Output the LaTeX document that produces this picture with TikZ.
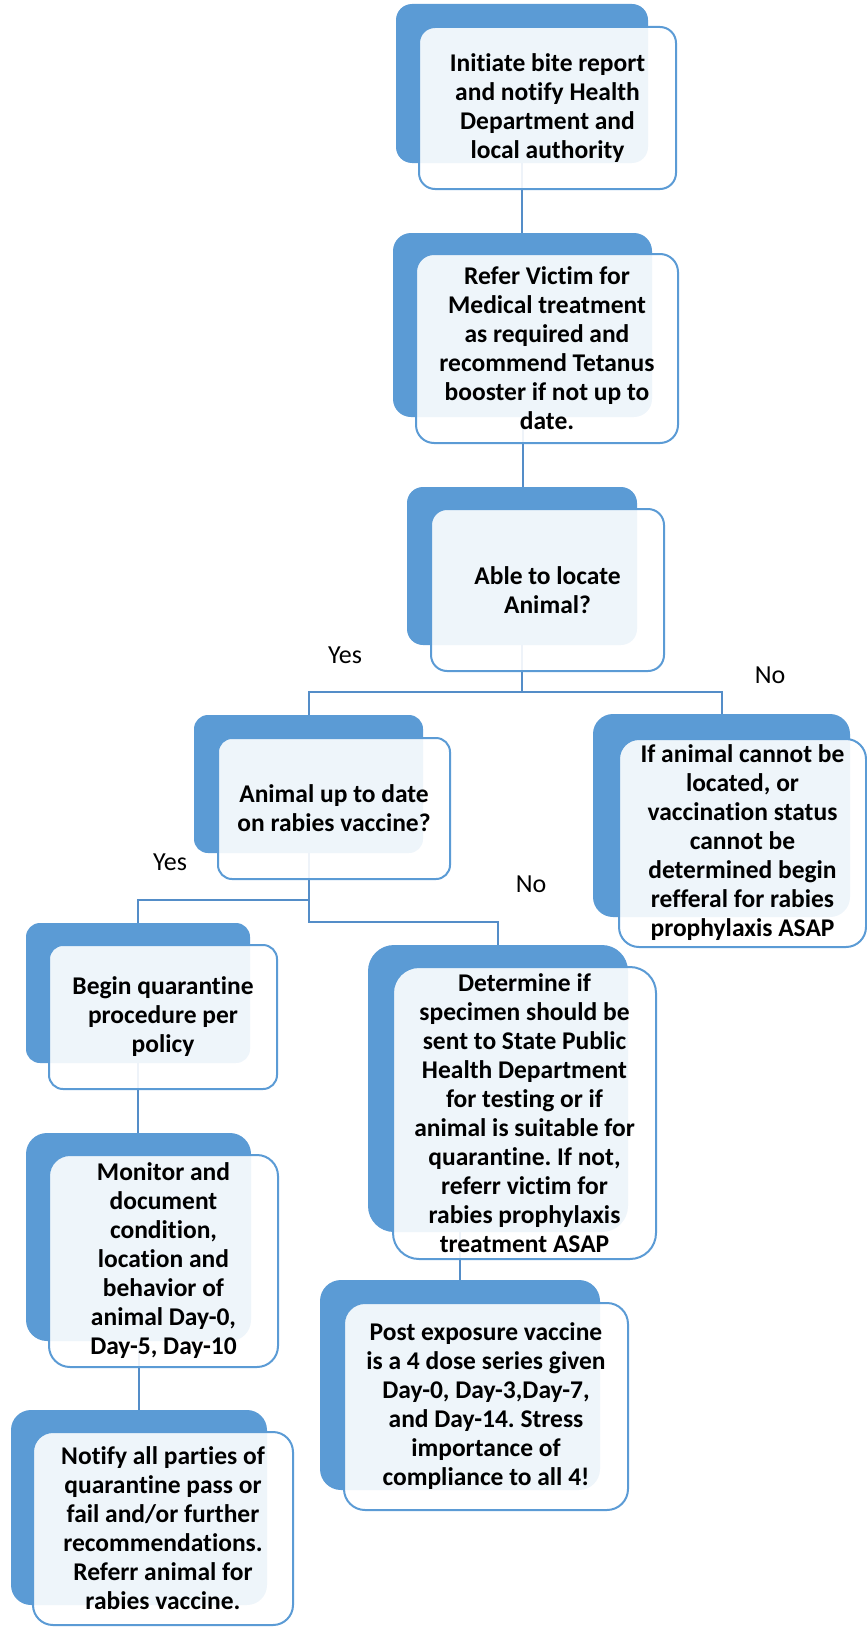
\documentclass[tikz,border=0pt]{standalone}
\usepackage{fontspec}
\setmainfont{Carlito}[Ligatures=NoCommon]
\frenchspacing
\usetikzlibrary{backgrounds}
\definecolor{accentblue}{RGB}{91,155,213}
\definecolor{linkblue}{RGB}{84,141,200}
\newcommand{\boxfont}{\fontsize{25.5}{29}\selectfont\bfseries}
\newcommand{\labelfont}{\fontsize{26}{31}\selectfont}
\tikzset{
  backbox/.style = {rectangle, fill=accentblue, rounded corners=#1, inner sep=0pt},
  backbox/.default = 16pt,
  frontbox/.style = {rectangle, draw=accentblue, line width=2pt, fill=white,
                     fill opacity=0.9, text opacity=1, rounded corners=#1,
                     align=center, font=\boxfont, inner sep=0pt},
  frontbox/.default = 16pt,
  linkline/.style = {draw=linkblue, line width=2pt},
  branchlabel/.style = {font=\labelfont, inner sep=0pt}
}

\begin{document}
\begin{tikzpicture}[x=1pt, y=-1pt]
\useasboundingbox (0,0) rectangle (867,1627);

% back boxes
\node[backbox, minimum width=252pt, minimum height=159pt] (initb) at (522,83.5) {};
\node[backbox, minimum width=259pt, minimum height=184pt, rounded corners=18pt] (referb) at (522.5,325) {};
\node[backbox] (locb) [minimum width=230pt, minimum height=158pt] at (522,566) {};
\node[backbox=14pt, minimum width=229pt, minimum height=138pt] (vacb) at (308.5,784) {};
\node[backbox=20pt, minimum width=257pt, minimum height=203pt] (nolocb) at (721.5,815.5) {};
\node[backbox=14pt, minimum width=224pt, minimum height=140pt] (quarb) at (138,993) {};
\node[backbox=26pt, minimum width=260pt, minimum height=287pt] (testb) at (498,1088.5) {};
\node[backbox=21pt, minimum width=280pt, minimum height=210pt] (postb) at (460,1385) {};
\node[backbox=21pt, minimum width=225pt, minimum height=208pt] (monb) at (138.5,1237) {};
\node[backbox=20pt, minimum width=256pt, minimum height=195pt] (notifb) at (139,1507.5) {};

% front boxes
\node[frontbox, minimum width=257pt, minimum height=162pt] (init) at (547.5,108)
  {Initiate bite report\\and notify Health\\Department and\\local authority};
\node[frontbox=18pt, minimum width=262pt, minimum height=189pt] (refer) at (547,348.5)
  {Refer Victim for\\Medical treatment\\as required and\\recommend Tetanus\\booster if not up to\\date.};
\node[frontbox, minimum width=233pt, minimum height=162pt] (loc) at (547.5,590)
  {Able to locate\\Animal?};
\node[frontbox=14pt, minimum width=232pt, minimum height=141pt] (vac) at (334,808.5)
  {Animal up to date\\on rabies vaccine?};
\node[frontbox=20pt, minimum width=247pt, minimum height=208pt] (noloc) at (742.5,843)
  {If animal cannot be\\located, or\\vaccination status\\cannot be\\determined begin\\refferal for rabies\\prophylaxis ASAP};
\node[frontbox=14pt, minimum width=228pt, minimum height=144pt] (quar) at (163,1017)
  {Begin quarantine\\procedure per\\policy};
\node[frontbox=26pt, minimum width=263pt, minimum height=292pt] (test) at (524.5,1113)
  {Determine if\\specimen should be\\sent to State Public\\Health Department\\for testing or if\\animal is suitable for\\quarantine. If not,\\referr victim for\\rabies prophylaxis\\treatment ASAP};
\node[frontbox=21pt, minimum width=284pt, minimum height=207pt] (post) at (486,1406.5)
  {Post exposure vaccine\\is a 4 dose series given\\Day-0, Day-3,Day-7,\\and Day-14. Stress\\importance of\\compliance to all 4!};
\node[frontbox=21pt, minimum width=229pt, minimum height=212pt] (mon) at (163.5,1261)
  {Monitor and\\document\\condition,\\location and\\behavior of\\animal Day-0,\\Day-5, Day-10};
\node[frontbox=20pt, minimum width=260pt, minimum height=193pt] (notif) at (163,1528.5)
  {Notify all parties of\\quarantine pass or\\fail and/or further\\recommendations.\\Referr animal for\\rabies vaccine.};

% branch labels
\node[branchlabel] (yesloc) at (345,655) {Yes};
\node[branchlabel] (noloclab) at (770,675) {No};
\node[branchlabel] (yesvac) at (170,862) {Yes};
\node[branchlabel] (novac) at (531,884) {No};

% connectors
\coordinate (forkloc) at (522,692);
\coordinate (forkyes) at (308.5,900);
\coordinate (forkno) at (308.5,922);
\begin{pgfonlayer}{background}
\draw[linkline] (initb.south) -- (initb.south |- referb.north);
\draw[linkline] (referb.south) -- (referb.south |- locb.north);
\draw[linkline] (locb.south) -- (forkloc);
\draw[linkline] (vacb.north) |- (forkloc) -| (nolocb.north);
\draw[linkline] (vacb.south) -- (forkno) -| (testb.north);
\draw[linkline] (forkyes) -| (quarb.north);
\draw[linkline] (quarb.south) -- (quarb.south |- monb.north);
\draw[linkline] (monb.south) -- (monb.south |- notifb.north);
\draw[linkline] (postb.north |- testb.south) -- (postb.north);
\end{pgfonlayer}
\end{tikzpicture}
\end{document}
